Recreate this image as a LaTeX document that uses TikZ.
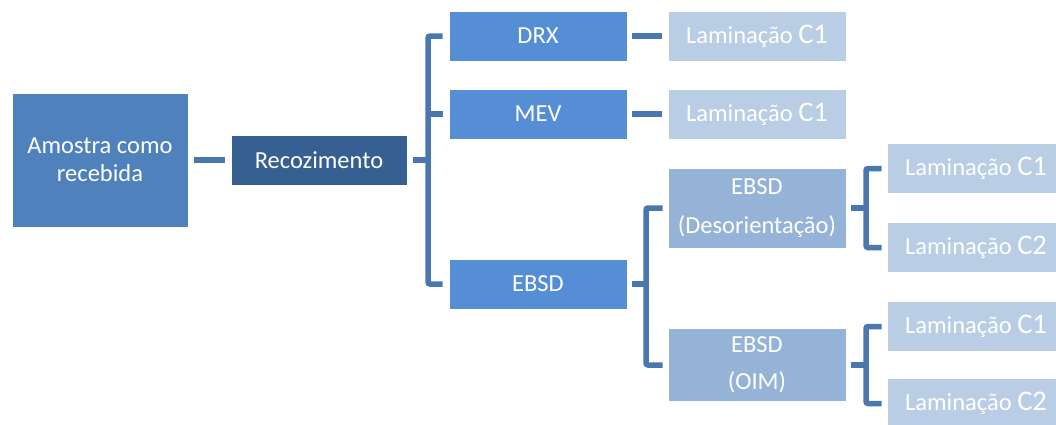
\documentclass[tikz,border=0pt]{standalone}
\usepackage{fontspec}
\setmainfont{Carlito}
\definecolor{amostra}{HTML}{4F81BD}
\definecolor{recoz}{HTML}{376092}
\definecolor{nivelA}{HTML}{558ED5}
\definecolor{nivelB}{HTML}{95B3D7}
\definecolor{lamin}{HTML}{B9CDE5}
\definecolor{linha}{HTML}{4A77B0}
\begin{document}
\begin{tikzpicture}[x=1pt,y=-1pt]

      \tikzset{box/.style={draw=white, line width=.6pt, text=white, align=center, inner sep=0pt, minimum width=178pt, minimum height=50pt, font=\fontsize{24.5}{28}\selectfont},
               link/.style={draw=linha, line width=5.5pt, rounded corners=2pt}}
      \useasboundingbox (0,0) rectangle (1056,424);
%% Boxes
      	\node[box, fill=amostra, minimum width=176pt, minimum height=134pt] (amo) at (100,160) {Amostra como\\recebida};
      	\node[box, fill=recoz, minimum width=176pt] (rec) at (319,160) {Recozimento};
      	\node[box, fill=nivelA] (drx) at (538,36) {DRX};
      	\node[box, fill=nivelA] (mev) at (538,114) {MEV};
      	\node[box, fill=nivelA] (ebsd) at (538,284) {EBSD};
      	\node[box, fill=lamin] (lam1) at (757,36) {Laminação {\fontsize{28.5}{28}\selectfont C1}};
      	\node[box, fill=lamin] (lam2) at (757,114) {Laminação {\fontsize{28.5}{28}\selectfont C1}};
      	\node[box, fill=nivelB, minimum height=80pt, font=\fontsize{24.5}{39}\selectfont] (deso) at (757,208) {EBSD\\(Desorientação)};
      	\node[box, fill=nivelB, minimum height=73pt, font=\fontsize{24.5}{37}\selectfont] (oim) at (757,365) {EBSD\\(OIM)};
      	\node[box, fill=lamin] (lam3) at (976,168.5) {Laminação {\fontsize{28.5}{28}\selectfont C1}};
      	\node[box, fill=lamin] (lam4) at (976,247.5) {Laminação {\fontsize{28.5}{28}\selectfont C2}};
      	\node[box, fill=lamin] (lam5) at (976,326.5) {Laminação {\fontsize{28.5}{28}\selectfont C1}};
      	\node[box, fill=lamin] (lam6) at (976,403.5) {Laminação {\fontsize{28.5}{28}\selectfont C2}};

      	\coordinate (j1) at (428,160);
      	\coordinate (j2) at (646,284);
      	\coordinate (j3) at (866,208);
      	\coordinate (j4) at (866,365);

%Edges
		\path (amo) edge[link, shorten <=6pt, shorten >=6pt] (rec);
		\path (drx) edge[link, shorten <=5pt, shorten >=6pt] (lam1);
		\path (mev) edge[link, shorten <=5pt, shorten >=6pt] (lam2);
		\path (rec) edge[link, shorten <=6pt] (j1);
		\draw[link] ([xshift=-6pt]drx.west) -| (j1) |- ([xshift=-6pt]ebsd.west);
		\path (j1 |- mev) edge[link, shorten >=6pt] (mev);
		\path (ebsd) edge[link, shorten <=5pt] (j2);
		\draw[link] ([xshift=-5pt]deso.west) -| (j2) |- ([xshift=-5pt]oim.west);
		\path (deso) edge[link, shorten <=5pt] (j3);
		\draw[link] ([xshift=-5pt]lam3.west) -| (j3) |- ([xshift=-5pt]lam4.west);
		\path (oim) edge[link, shorten <=5pt] (j4);
		\draw[link] ([xshift=-5pt]lam5.west) -| (j4) |- ([xshift=-5pt]lam6.west);
	\end{tikzpicture}
\end{document}
